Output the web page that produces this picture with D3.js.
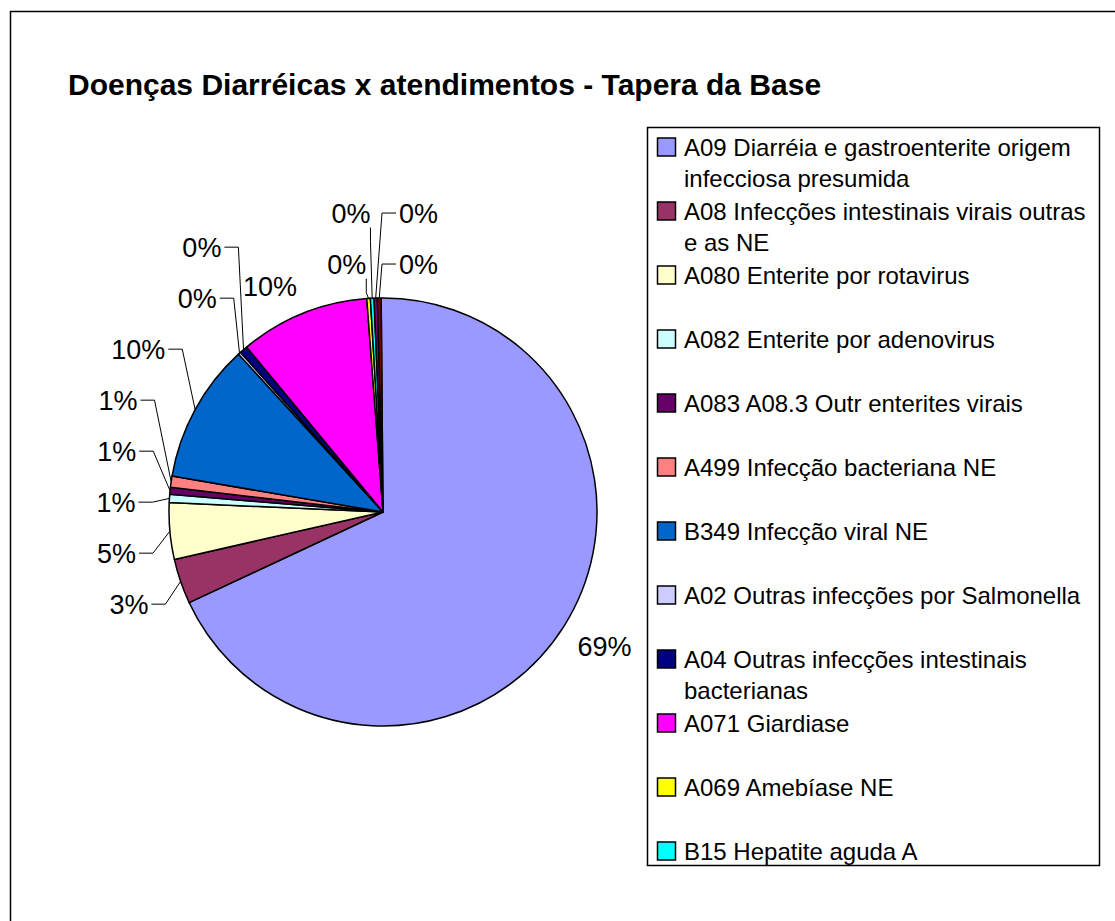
<!DOCTYPE html>
<meta charset="utf-8">
<script src="https://d3js.org/d3.v7.min.js"></script>
<style>
  body { margin: 0; background: #fff; }
  text { font-family: "Liberation Sans", Arial, sans-serif; fill: #000; }
</style>
<div id="chart"></div>
<script>

// categories (only the first 12 fit in the legend of the original chart)
var categories = [
  "A09 Diarréia e gastroenterite origem infecciosa presumida",
  "A08 Infecções intestinais virais outras e as NE",
  "A080 Enterite por rotavirus",
  "A082 Enterite por adenovirus",
  "A083 A08.3 Outr enterites virais",
  "A499 Infecção bacteriana NE",
  "B349 Infecção viral NE",
  "A02 Outras infecções por Salmonella",
  "A04 Outras infecções intestinais bacterianas",
  "A071 Giardiase",
  "A069 Amebíase NE",
  "B15 Hepatite aguda A",
  "Outros 13",
  "Outros 14"
];
// share of atendimentos in %
var values = [68.13, 3.40, 4.26, 0.61, 0.53, 0.84, 10.51, 0.20, 0.60, 9.78, 0.27, 0.27, 0.25, 0.28];
// data labels as printed on the chart
var pctLabels = ["69%", "3%", "5%", "1%", "1%", "1%", "10%", "0%", "0%", "10%", "0%", "0%", "0%", "0%"];
var colors = ["#9999FF", "#993366", "#FFFFCC", "#CCFFFF", "#660066", "#FF8080",
              "#0066CC", "#CCCCFF", "#000080", "#FF00FF", "#FFFF00", "#00FFFF",
              "#800080", "#800000"];
var legendCount = 12;
var title = "Doenças Diarréicas x atendimentos - Tapera da Base";

var width = 1115, height = 921;
var cx = 383, cy = 512, radius = 214;
var firstAngle = -0.5 * Math.PI / 180;

var svg = d3.select("#chart").append("svg")
    .attr("width", width)
    .attr("height", height);

// chart frame
svg.append("rect")
    .attr("x", 10.5).attr("y", 11.5)
    .attr("width", width).attr("height", height)
    .attr("fill", "none").attr("stroke", "#000").attr("stroke-width", 1.5);

svg.append("text")
    .attr("x", 68).attr("y", 95)
    .style("font-size", "30px").style("font-weight", "bold")
    .text(title);

// pie, clockwise from 12 o'clock like excel
var pie = d3.pie().sort(null)
    .startAngle(firstAngle).endAngle(firstAngle + 2 * Math.PI)
    .value(function(d) { return d; });
var arcs = pie(values);
var total = d3.sum(values);
var arc = d3.arc().innerRadius(0).outerRadius(radius);

var g = svg.append("g").attr("transform", "translate(" + cx + "," + cy + ")");

g.selectAll("path.slice")
    .data(arcs)
    .enter()
    .append("path")
    .attr("class", "slice")
    .attr("d", arc)
    .attr("fill", function(d, i) { return colors[i]; })
    .attr("stroke", "#000")
    .attr("stroke-width", 1.5)
    .attr("stroke-linejoin", "round");

// ---- percentage labels ----
var labelFont = 27, boxH = 24, r0 = radius + 16, r1 = radius + 34, gap = 51, pad = 16, stub = 14;

function soft(t) { return Math.max(-1, Math.min(1, 3 * t)); }

var labels = arcs.map(function(d, i) {
  var a = (d.startAngle + d.endAngle) / 2;
  return { i: i, a: a, share: d.value / total, txt: pctLabels[i],
           side: Math.sin(a) < 0 ? -1 : 1 };
});

// tiny slices at the end of the circle: half of them wrap to the right of 12 o'clock
var tail = [];
for (var k = labels.length - 1; k >= 0 && labels[k].share < 0.005; k--) tail.push(labels[k]);
tail.slice(0, Math.ceil(tail.length / 2)).forEach(function(l) { l.flip = true; l.side = 1; });

var texts = g.selectAll("text.pct")
    .data(labels)
    .enter()
    .append("text")
    .attr("class", "pct")
    .style("font-size", labelFont + "px")
    .text(function(d) { return d.txt; });
texts.each(function(d) { d.w = this.getComputedTextLength(); });

var placed = [];

function hits(l, q, padX, dy) {
  return l.x0 - padX < q.x1 && q.x0 - padX < l.x1 && Math.abs(l.y - q.y) < dy - 0.01;
}

// labels with leaders pile up in a column, one row above the previous one
function stack(l) {
  var changed = true, guard = 0;
  while (changed && guard++ < 50) {
    changed = false;
    placed.forEach(function(q) {
      var ny = null;
      if (!q.leader && hits(l, q, 0, boxH)) ny = q.y - boxH;
      else if (q.leader && hits(l, q, pad, gap * 1.5)) ny = q.y - gap;
      if (ny !== null && Math.abs(ny - l.y) > 0.01) { l.y = ny; changed = true; }
    });
  }
  placed.push(l);
}

function placeDefault(l) {
  var sx = Math.sin(l.a), sy = -Math.cos(l.a);
  var mx = r0 * sx + l.w / 2 * soft(sx), my = r0 * sy + boxH / 2 * soft(sy);
  l.x0 = mx - l.w / 2; l.x1 = mx + l.w / 2; l.y = my; l.leader = false;
  return !placed.some(function(q) { return hits(l, q, 0, boxH); });
}

function leaderY(l) {
  var sy = -Math.cos(l.a);
  return r1 * sy + boxH / 2 * Math.max(0, soft(sy));
}

var left = labels.filter(function(l) { return l.side < 0; }).sort(function(a, b) { return a.a - b.a; });
var right = labels.filter(function(l) { return l.side > 0 && !l.flip; }).sort(function(a, b) { return a.a - b.a; });
var flipped = labels.filter(function(l) { return l.flip; }).sort(function(a, b) { return b.a - a.a; });

left.forEach(function(l) {
  if (l.share >= 0.05 && placeDefault(l)) { placed.push(l); return; }
  l.leader = true;
  var xe = r1 * Math.sin(l.a);
  l.x0 = xe - l.w; l.x1 = xe; l.y = leaderY(l);
  stack(l);
});

right.forEach(function(l) {
  if (l.share >= 0.05 && placeDefault(l)) { placed.push(l); return; }
  l.leader = true;
  var xs = r1 * Math.sin(l.a);
  l.x0 = xs; l.x1 = xs + l.w; l.y = leaderY(l);
  stack(l);
});

flipped.forEach(function(l) {
  l.leader = true;
  var xs = Math.max(r1 * Math.sin(l.a), 0) + pad;
  l.x0 = xs; l.x1 = xs + l.w; l.y = leaderY(l);
  stack(l);
});

texts
    .attr("x", function(d) { return d.x0; })
    .attr("y", function(d) { return d.y + labelFont * 0.36; });

// leader lines
function leaderPath(l) {
  var tx = radius * Math.sin(l.a), ty = -radius * Math.cos(l.a);
  var p = d3.path();
  if (l.side < 0 && tx > l.x1 + 3 + stub) {
    p.moveTo(l.x1 + 3, l.y); p.lineTo(l.x1 + 3 + stub, l.y);
  } else if (l.side > 0 && tx < l.x0 - 3 - stub) {
    p.moveTo(l.x0 - 3, l.y); p.lineTo(l.x0 - 3 - stub, l.y);
  } else {
    var dir = ty > l.y ? 1 : -1;
    var sx = Math.min(Math.max(tx, l.x0), l.x1);
    var sy = l.y + dir * (boxH / 2 + 2);
    p.moveTo(sx, sy); p.lineTo(sx, sy + dir * stub);
  }
  p.lineTo(tx, ty);
  return p.toString();
}

g.selectAll("path.leader")
    .data(labels.filter(function(l) { return l.leader; }))
    .enter()
    .append("path")
    .attr("class", "leader")
    .attr("d", leaderPath)
    .attr("fill", "none")
    .attr("stroke", "#000")
    .attr("stroke-width", 1);

// ---- legend ----
var legendBox = { x: 647, y: 127, w: 452, h: 738 };
var legendFont = 24, lineH = 31, wrapW = 410;

svg.append("rect")
    .attr("x", legendBox.x + 0.5).attr("y", legendBox.y + 0.5)
    .attr("width", legendBox.w).attr("height", legendBox.h)
    .attr("fill", "#fff").attr("stroke", "#000").attr("stroke-width", 1.5);

var rowY = d3.scalePoint()
    .domain(categories.slice(0, legendCount))
    .range([legendBox.y + 20, legendBox.y + legendBox.h - 14]);

var items = svg.selectAll("g.item")
    .data(categories.slice(0, legendCount))
    .enter()
    .append("g")
    .attr("class", "item")
    .attr("transform", function(d) { return "translate(" + legendBox.x + "," + rowY(d) + ")"; });

items.append("rect")
    .attr("x", 10.5).attr("y", -9)
    .attr("width", 18).attr("height", 18)
    .attr("fill", function(d, i) { return colors[i]; })
    .attr("stroke", "#000").attr("stroke-width", 1.5);

items.append("text")
    .attr("x", 37)
    .attr("y", legendFont * 0.36)
    .style("font-size", legendFont + "px")
    .each(function(d) {
      var t = d3.select(this), words = d.split(" "), line = [];
      var ts = t.append("tspan").attr("x", 37).attr("dy", 0);
      words.forEach(function(w) {
        line.push(w);
        ts.text(line.join(" "));
        if (ts.node().getComputedTextLength() > wrapW && line.length > 1) {
          line.pop();
          ts.text(line.join(" "));
          line = [w];
          ts = t.append("tspan").attr("x", 37).attr("dy", lineH).text(w);
        }
      });
    });

</script>
